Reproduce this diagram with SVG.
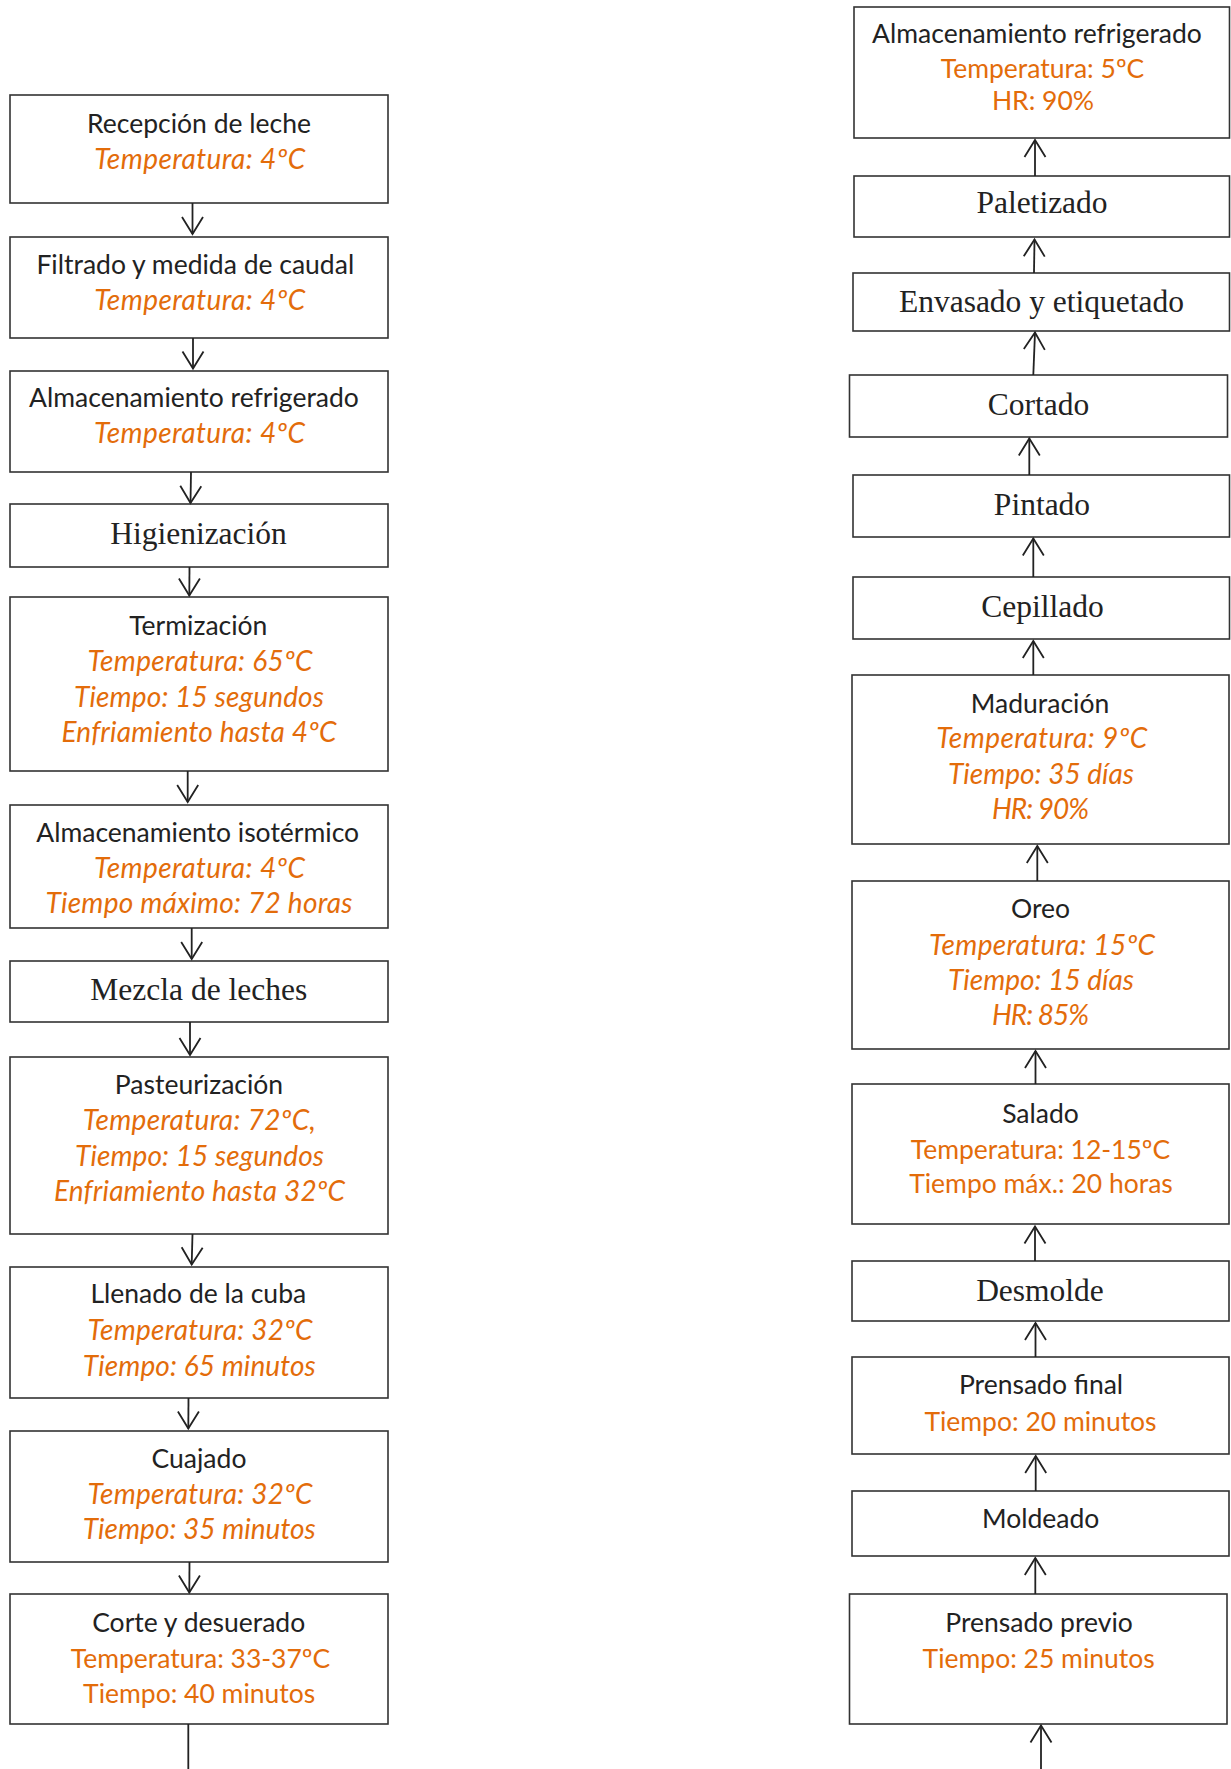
<svg xmlns="http://www.w3.org/2000/svg" width="1231" height="1769" viewBox="0 0 1231 1769">
<style>
  .box { fill: #ffffff; stroke: #333333; stroke-width: 1.6; }
  .t { font-family: Lato, "Open Sans", sans-serif; font-size: 26.5px; fill: #222222; text-anchor: middle; }
  .s { font-family: "Liberation Serif", "Times New Roman", serif; font-size: 31.5px; fill: #222222; text-anchor: middle; }
  .o { font-family: Lato, "Open Sans", sans-serif; font-size: 26.5px; fill: #E36C0A; text-anchor: middle; }
  .oi { font-family: Lato, "Open Sans", sans-serif; font-size: 28px; fill: #E36C0A; text-anchor: middle; font-style: italic; }
  .c { stroke: #222222; stroke-width: 1.8; fill: none; }
</style>
<defs>
  <marker id="arr" markerUnits="userSpaceOnUse" markerWidth="40" markerHeight="40" refX="0" refY="0" orient="auto" overflow="visible">
    <path d="M-17,-10.5 L0,0 L-17,10.5" fill="none" stroke="#222222" stroke-width="1.8"/>
  </marker>
</defs>
<rect width="1231" height="1769" fill="#ffffff"/>

<!-- Left column: milk reception to curd cutting -->
<g id="recepcion">
  <rect class="box" x="10" y="95" width="378" height="108"/>
  <text class="t" x="199" y="133">Recepción de leche</text>
  <text class="oi" x="199.7" y="169" textLength="211">Temperatura: 4ºC</text>
</g>
<g id="filtrado">
  <rect class="box" x="10" y="237" width="378" height="101"/>
  <text class="t" x="195.3" y="274">Filtrado y medida de caudal</text>
  <text class="oi" x="199.7" y="310" textLength="211">Temperatura: 4ºC</text>
</g>
<g id="almacenamiento-refrigerado-leche">
  <rect class="box" x="10" y="371" width="378" height="101"/>
  <text class="t" x="194" y="406.5">Almacenamiento refrigerado</text>
  <text class="oi" x="199.5" y="442.5" textLength="211">Temperatura: 4ºC</text>
</g>
<g id="higienizacion">
  <rect class="box" x="10" y="504" width="378" height="63"/>
  <text class="s" x="198.5" y="544">Higienización</text>
</g>
<g id="termizacion">
  <rect class="box" x="10" y="597" width="378" height="174"/>
  <text class="t" x="198.3" y="635">Termización</text>
  <text class="oi" x="200" y="671" textLength="225">Temperatura: 65ºC</text>
  <text class="oi" x="199" y="706.5" textLength="250">Tiempo: 15 segundos</text>
  <text class="oi" x="199" y="742" textLength="275">Enfriamiento hasta 4ºC</text>
</g>
<g id="almacenamiento-isotermico">
  <rect class="box" x="10" y="805" width="378" height="123"/>
  <text class="t" x="197.7" y="841.5">Almacenamiento isotérmico</text>
  <text class="oi" x="199.5" y="877.5" textLength="211">Temperatura: 4ºC</text>
  <text class="oi" x="199" y="913" textLength="307">Tiempo máximo: 72 horas</text>
</g>
<g id="mezcla">
  <rect class="box" x="10" y="961" width="378" height="61"/>
  <text class="s" x="198.8" y="1000">Mezcla de leches</text>
</g>
<g id="pasteurizacion">
  <rect class="box" x="10" y="1057" width="378" height="177"/>
  <text class="t" x="199" y="1094">Pasteurización</text>
  <text class="oi" x="199.3" y="1130" textLength="233">Temperatura: 72ºC,</text>
  <text class="oi" x="199.5" y="1165.7" textLength="249">Tiempo: 15 segundos</text>
  <text class="oi" x="199.5" y="1201" textLength="291">Enfriamiento hasta 32ºC</text>
</g>
<g id="llenado">
  <rect class="box" x="10" y="1267" width="378" height="131"/>
  <text class="t" x="198.3" y="1303.3">Llenado de la cuba</text>
  <text class="oi" x="200" y="1340" textLength="225">Temperatura: 32ºC</text>
  <text class="oi" x="199.3" y="1375.7" textLength="233">Tiempo: 65 minutos</text>
</g>
<g id="cuajado">
  <rect class="box" x="10" y="1431" width="378" height="131"/>
  <text class="t" x="199" y="1468.3">Cuajado</text>
  <text class="oi" x="200" y="1504" textLength="225">Temperatura: 32ºC</text>
  <text class="oi" x="199.3" y="1539.3" textLength="233">Tiempo: 35 minutos</text>
</g>
<g id="corte">
  <rect class="box" x="10" y="1594" width="378" height="130"/>
  <text class="t" x="198.7" y="1631.7">Corte y desuerado</text>
  <text class="o" x="200.5" y="1668.3">Temperatura: 33-37ºC</text>
  <text class="o" x="199.2" y="1703.3">Tiempo: 40 minutos</text>
</g>

<!-- Right column: pre-pressing up to cold storage -->
<g id="almacenamiento-refrigerado-queso">
  <rect class="box" x="854" y="7" width="375.5" height="131"/>
  <text class="t" x="1037" y="43.3">Almacenamiento refrigerado</text>
  <text class="o" x="1042.5" y="78.3">Temperatura: 5ºC</text>
  <text class="o" x="1043" y="110">HR: 90%</text>
</g>
<g id="paletizado">
  <rect class="box" x="854" y="176" width="375.5" height="61"/>
  <text class="s" x="1042" y="213.3">Paletizado</text>
</g>
<g id="envasado">
  <rect class="box" x="853" y="273" width="376.5" height="58"/>
  <text class="s" x="1041.5" y="311.7">Envasado y etiquetado</text>
</g>
<g id="cortado">
  <rect class="box" x="849.5" y="375" width="378" height="62"/>
  <text class="s" x="1038.5" y="415">Cortado</text>
</g>
<g id="pintado">
  <rect class="box" x="853" y="475" width="376.5" height="62"/>
  <text class="s" x="1042" y="515">Pintado</text>
</g>
<g id="cepillado">
  <rect class="box" x="853" y="577" width="376.5" height="62"/>
  <text class="s" x="1042.5" y="616.7">Cepillado</text>
</g>
<g id="maduracion">
  <rect class="box" x="852" y="675" width="377" height="169"/>
  <text class="t" x="1040" y="712.7">Maduración</text>
  <text class="oi" x="1041.7" y="748.3" textLength="211">Temperatura: 9ºC</text>
  <text class="oi" x="1041" y="784" textLength="186">Tiempo: 35 días</text>
  <text class="oi" x="1040.5" y="819.3" textLength="97">HR: 90%</text>
</g>
<g id="oreo">
  <rect class="box" x="852" y="881" width="377" height="168"/>
  <text class="t" x="1040.5" y="918.3">Oreo</text>
  <text class="oi" x="1042" y="955" textLength="226">Temperatura: 15ºC</text>
  <text class="oi" x="1041" y="990" textLength="186">Tiempo: 15 días</text>
  <text class="oi" x="1040.5" y="1025" textLength="97">HR: 85%</text>
</g>
<g id="salado">
  <rect class="box" x="852" y="1084" width="377" height="140"/>
  <text class="t" x="1040.5" y="1122.7">Salado</text>
  <text class="o" x="1040.5" y="1159.3">Temperatura: 12-15ºC</text>
  <text class="o" x="1041" y="1193.3">Tiempo máx.: 20 horas</text>
</g>
<g id="desmolde">
  <rect class="box" x="852" y="1261" width="377" height="60"/>
  <text class="s" x="1040" y="1300.7">Desmolde</text>
</g>
<g id="prensado-final">
  <rect class="box" x="852" y="1357" width="377" height="97"/>
  <text class="t" x="1041" y="1394.3">Prensado final</text>
  <text class="o" x="1040.5" y="1430.7">Tiempo: 20 minutos</text>
</g>
<g id="moldeado">
  <rect class="box" x="852" y="1491" width="377" height="65"/>
  <text class="t" x="1040.7" y="1527.7">Moldeado</text>
</g>
<g id="prensado-previo">
  <rect class="box" x="849.5" y="1594" width="377.5" height="130"/>
  <text class="t" x="1039" y="1631.7">Prensado previo</text>
  <text class="o" x="1038.7" y="1668.3">Tiempo: 25 minutos</text>
</g>

<!-- Connectors: left column flows down, right column flows up -->
<g id="connectors">
  <line class="c" x1="192.5" y1="203" x2="192.5" y2="234" marker-end="url(#arr)"/>
  <line class="c" x1="193" y1="338" x2="193" y2="368.5" marker-end="url(#arr)"/>
  <line class="c" x1="191" y1="472" x2="190.5" y2="503" marker-end="url(#arr)"/>
  <line class="c" x1="189.5" y1="567" x2="189.3" y2="595.5" marker-end="url(#arr)"/>
  <line class="c" x1="187.7" y1="771" x2="187.7" y2="802" marker-end="url(#arr)"/>
  <line class="c" x1="191.7" y1="928" x2="191.7" y2="959" marker-end="url(#arr)"/>
  <line class="c" x1="190" y1="1022" x2="190" y2="1055" marker-end="url(#arr)"/>
  <line class="c" x1="192.5" y1="1234" x2="191.7" y2="1264.5" marker-end="url(#arr)"/>
  <line class="c" x1="188.5" y1="1398" x2="188.3" y2="1428.5" marker-end="url(#arr)"/>
  <line class="c" x1="189.5" y1="1562" x2="189.3" y2="1592.5" marker-end="url(#arr)"/>
  <line class="c" x1="188.3" y1="1724" x2="188.3" y2="1769"/>

  <line class="c" x1="1041" y1="1769" x2="1041" y2="1725.5" marker-end="url(#arr)"/>
  <line class="c" x1="1035.3" y1="1594" x2="1035.3" y2="1558" marker-end="url(#arr)"/>
  <line class="c" x1="1035.7" y1="1491" x2="1035.7" y2="1456" marker-end="url(#arr)"/>
  <line class="c" x1="1035.5" y1="1357" x2="1035.5" y2="1323" marker-end="url(#arr)"/>
  <line class="c" x1="1035" y1="1261" x2="1035" y2="1226.5" marker-end="url(#arr)"/>
  <line class="c" x1="1035.5" y1="1084" x2="1035.5" y2="1051" marker-end="url(#arr)"/>
  <line class="c" x1="1037.3" y1="881" x2="1037.3" y2="846" marker-end="url(#arr)"/>
  <line class="c" x1="1033.3" y1="675" x2="1033.3" y2="641" marker-end="url(#arr)"/>
  <line class="c" x1="1033.3" y1="577" x2="1033.3" y2="538.5" marker-end="url(#arr)"/>
  <line class="c" x1="1029.3" y1="475" x2="1029.3" y2="438.5" marker-end="url(#arr)"/>
  <line class="c" x1="1033.3" y1="375" x2="1035" y2="332.5" marker-end="url(#arr)"/>
  <line class="c" x1="1034" y1="273" x2="1034.5" y2="239.5" marker-end="url(#arr)"/>
  <line class="c" x1="1035" y1="176" x2="1035" y2="140" marker-end="url(#arr)"/>
</g>
</svg>
